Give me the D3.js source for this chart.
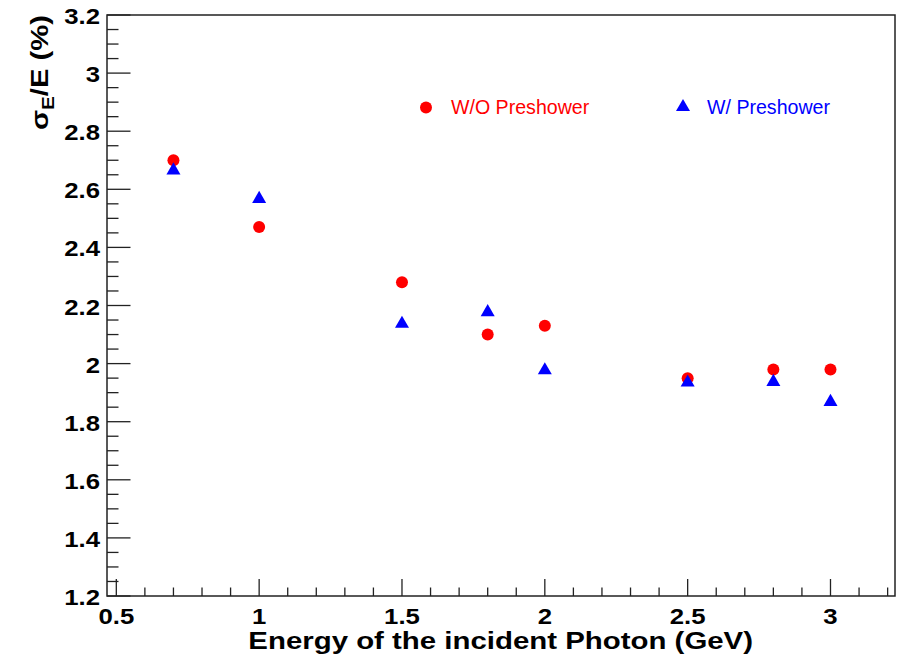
<!DOCTYPE html>
<html>
<head>
<meta charset="utf-8">
<script src="https://d3js.org/d3.v7.min.js"></script>
<style>
  body { margin: 0; background: #fff; }
  text { font-family: "Liberation Sans", Arial, sans-serif; }
</style>
</head>
<body>
<script>
// beam energies (GeV)
var energies = [0.7, 1.0, 1.5, 1.8, 2.0, 2.5, 2.8, 3.0];
// sigma_E/E (%) without preshower
var withoutPre = [2.70, 2.47, 2.28, 2.10, 2.13, 1.95, 1.98, 1.98];
// sigma_E/E (%) with preshower
var withPre = [2.665, 2.567, 2.137, 2.177, 1.977, 1.935, 1.937, 1.868];

var xTicks = [0.5, 1, 1.5, 2, 2.5, 3];
var yTicks = [1.2, 1.4, 1.6, 1.8, 2, 2.2, 2.4, 2.6, 2.8, 3, 3.2];
var seriesNames = ["W/O Preshower", "W/ Preshower"];

var W = 903, H = 665;
var fL = 107, fR = 895, fT = 15, fB = 596;

var svg = d3.select("body").append("svg")
    .attr("width", W).attr("height", H);

var x = d3.scaleLinear().domain([0.4674, 3.2258]).range([fL, fR]);
var y = d3.scaleLinear().domain([1.2, 3.2]).range([fB, fT]);

// frame
svg.append("rect")
    .attr("x", fL).attr("y", fT)
    .attr("width", fR - fL).attr("height", fB - fT)
    .attr("fill", "none").attr("stroke", "#222").attr("stroke-width", 1.5);

// x ticks (inside, pointing up)
var xMinor = d3.range(5, 33).map(function(d){ return d / 10; });
svg.append("g").selectAll("line").data(xMinor).enter().append("line")
    .attr("x1", function(d){ return x(d); }).attr("x2", function(d){ return x(d); })
    .attr("y1", fB)
    .attr("y2", function(d){ return Math.abs(d * 2 - Math.round(d * 2)) < 1e-6 ? fB - 17 : fB - 8.5; })
    .attr("stroke", "#222").attr("stroke-width", 1.3);

// y ticks (inside, pointing right)
var yMinor = d3.range(24, 65).map(function(d){ return d / 20; });
svg.append("g").selectAll("line").data(yMinor).enter().append("line")
    .attr("y1", function(d){ return y(d); }).attr("y2", function(d){ return y(d); })
    .attr("x1", fL)
    .attr("x2", function(d){ return Math.abs(d * 5 - Math.round(d * 5)) < 1e-6 ? fL + 23.5 : fL + 11.5; })
    .attr("stroke", "#222").attr("stroke-width", 1.3);

var fmt = function(d){ return String(+d.toFixed(1)); };

// helper: text with horizontal stretch along its own direction
function stretched(g, px, py, rot, sx, anchor, size, weight, fill) {
    var t = g.append("text")
        .attr("transform", "translate(" + px + "," + py + ") rotate(" + rot + ") scale(" + sx + ",1)")
        .attr("text-anchor", anchor)
        .attr("font-size", size)
        .attr("font-weight", weight)
        .attr("fill", fill);
    return t;
}

// x tick labels
xTicks.forEach(function(d){
    stretched(svg, x(d), 624, 0, 1.17, "middle", 22, "bold", "#000").text(fmt(d));
});
// y tick labels
yTicks.forEach(function(d){
    stretched(svg, 100, y(d) + 9, 0, 1.17, "end", 22, "bold", "#000").text(fmt(d));
});

// x title
var xt = stretched(svg, 753, 649, 0, 1, "end", 24, "bold", "#000")
    .text("Energy of the incident Photon (GeV)");
var xl = xt.node().getComputedTextLength();
xt.attr("transform", "translate(753,649) scale(" + (505 / xl) + ",1)");

// y title
var yt = stretched(svg, 48, 15, -90, 1, "end", 24, "bold", "#000");
yt.append("tspan").text("σ");
yt.append("tspan").attr("font-size", 17).attr("dy", 6).text("E");
yt.append("tspan").attr("dy", -6).text("/E (%)");
var yl = yt.node().getComputedTextLength();
yt.attr("transform", "translate(48,15) rotate(-90) scale(" + (115 / yl) + ",1)");

// data points
var pts1 = energies.map(function(e, i){ return [e, withoutPre[i]]; });
var pts2 = energies.map(function(e, i){ return [e, withPre[i]]; });

svg.append("g").selectAll("circle").data(pts1).enter().append("circle")
    .attr("cx", function(d){ return x(d[0]); })
    .attr("cy", function(d){ return y(d[1]); })
    .attr("r", 6).attr("fill", "#ff0000");

var tri = d3.symbol().type(d3.symbolTriangle).size(85);
svg.append("g").selectAll("path").data(pts2).enter().append("path")
    .attr("transform", function(d){ return "translate(" + x(d[0]) + "," + y(d[1]) + ")"; })
    .attr("d", tri).attr("fill", "#0000ff");

// legend
var lg = svg.append("g");
lg.append("circle").attr("cx", 426).attr("cy", 107.5).attr("r", 6).attr("fill", "#ff0000");
lg.append("text").attr("x", 451).attr("y", 114).attr("font-size", 19.6)
    .attr("fill", "#ff0000").text(seriesNames[0]);
lg.append("path").attr("transform", "translate(683,107)").attr("d", tri).attr("fill", "#0000ff");
lg.append("text").attr("x", 707).attr("y", 114).attr("font-size", 19.6)
    .attr("fill", "#0000ff").text(seriesNames[1]);
</script>
</body>
</html>
